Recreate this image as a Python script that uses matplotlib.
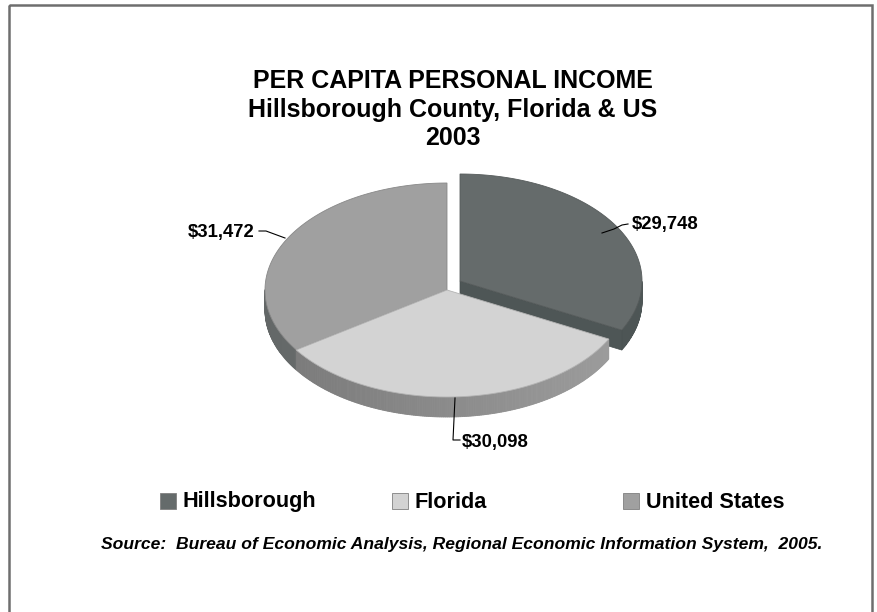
import numpy as np
import matplotlib
matplotlib.use("Agg")
import matplotlib.pyplot as plt
from matplotlib.patches import Polygon, Rectangle

# Data
regions = ["Hillsborough", "Florida", "United States"]
income = [29748, 30098, 31472]
value_labels = ["$29,748", "$30,098", "$31,472"]

top_colors = ["#656b6b", "#d3d3d3", "#a0a0a0"]
side_colors = ["#4c5454", "#9a9a9a", "#7f8484"]

plt.rcParams["font.family"] = ["Liberation Sans", "DejaVu Sans"]

W, H = 877, 612
fig = plt.figure(figsize=(W / 100, H / 100), dpi=100)
ax = fig.add_axes([0, 0, 1, 1])
ax.set_xlim(0, W)
ax.set_ylim(H, 0)
ax.axis("off")

# pie geometry (pixel space)
cx, cy, rx, ry, depth = 447, 290, 182, 107, 20
explode = [(13, -9), (0, 0), (0, 0)]

vals = np.array(income, dtype=float)
fracs = vals / vals.sum()
starts = np.pi / 2 - 2 * np.pi * np.concatenate([[0], np.cumsum(fracs)[:-1]])
ends = starts - 2 * np.pi * fracs


def pt(t, ox, oy, dz=0.0):
    return cx + ox + rx * np.cos(t), cy + oy - ry * np.sin(t) + dz


def shade(color, f):
    c = np.array(matplotlib.colors.to_rgb(color))
    return tuple(np.clip(c * f, 0, 1))


# side walls (drawn first)
for i in [0, 2, 1]:
    ox, oy = explode[i]
    ts = np.linspace(ends[i], starts[i], 200)
    for a, b in zip(ts[:-1], ts[1:]):
        m = (a + b) / 2
        if np.sin(m) >= 0:
            continue
        x0, y0 = pt(a, ox, oy)
        x1, y1 = pt(b, ox, oy)
        col = shade(side_colors[i], 0.9 + 0.12 * np.cos(m))
        ax.add_patch(Polygon([(x0, y0), (x1, y1), (x1, y1 + depth), (x0, y0 + depth)],
                             closed=True, facecolor=col, edgecolor=col, lw=0.6))
    if explode[i] != (0, 0):
        # radial face of the exploded slice
        xe, ye = pt(ends[i], ox, oy)
        xc, yc = cx + ox, cy + oy
        ax.add_patch(Polygon([(xc, yc), (xe, ye), (xe, ye + depth), (xc, yc + depth)],
                             closed=True, facecolor=shade(side_colors[i], 1.02),
                             edgecolor=shade(side_colors[i], 0.9), lw=0.5))

# top faces
for i in [2, 1, 0]:
    ox, oy = explode[i]
    ts = np.linspace(starts[i], ends[i], 200)
    xs, ys = pt(ts, ox, oy)
    verts = [(cx + ox, cy + oy)] + list(zip(xs, ys))
    ax.add_patch(Polygon(verts, closed=True, facecolor=top_colors[i],
                         edgecolor=shade(top_colors[i], 0.85), lw=0.6))

# value labels with leader lines
ax.plot([602, 614, 622, 628], [233, 229, 225, 224], color="black", lw=0.8)
ax.text(632, 225, value_labels[0], ha="left", va="center", fontsize=13.3, fontweight="bold")

ax.plot([455, 453, 460], [398, 440, 440], color="black", lw=0.8)
ax.text(462, 442, value_labels[1], ha="left", va="center", fontsize=13.3, fontweight="bold")

ax.plot([259, 266, 285], [231, 231, 238], color="black", lw=0.8)
ax.text(255, 233, value_labels[2], ha="right", va="center", fontsize=13.3, fontweight="bold")

# title
title_lines = ["PER CAPITA PERSONAL INCOME", "Hillsborough County, Florida & US", "2003"]
for y, line in zip([81, 110, 138], title_lines):
    ax.text(453, y, line, ha="center", va="center", fontsize=18, fontweight="bold")

# legend
leg_x = [160, 392, 623]
for i, name in enumerate(regions):
    ax.add_patch(Rectangle((leg_x[i], 493), 16, 16, facecolor=top_colors[i],
                           edgecolor="#808080", lw=0.6))
    ax.text(leg_x[i] + 23, 502, name, ha="left", va="center", fontsize=15.6, fontweight="bold")

# source
ax.text(462, 545, "Source:  Bureau of Economic Analysis, Regional Economic Information System,  2005.",
        ha="center", va="center", fontsize=12.6, fontweight="bold", fontstyle="italic")

# frame
ax.add_patch(Rectangle((9, 5), 863, 620, facecolor="none", edgecolor="#6e6e6e", lw=1.8))

fig.savefig("out.png", dpi=100)
